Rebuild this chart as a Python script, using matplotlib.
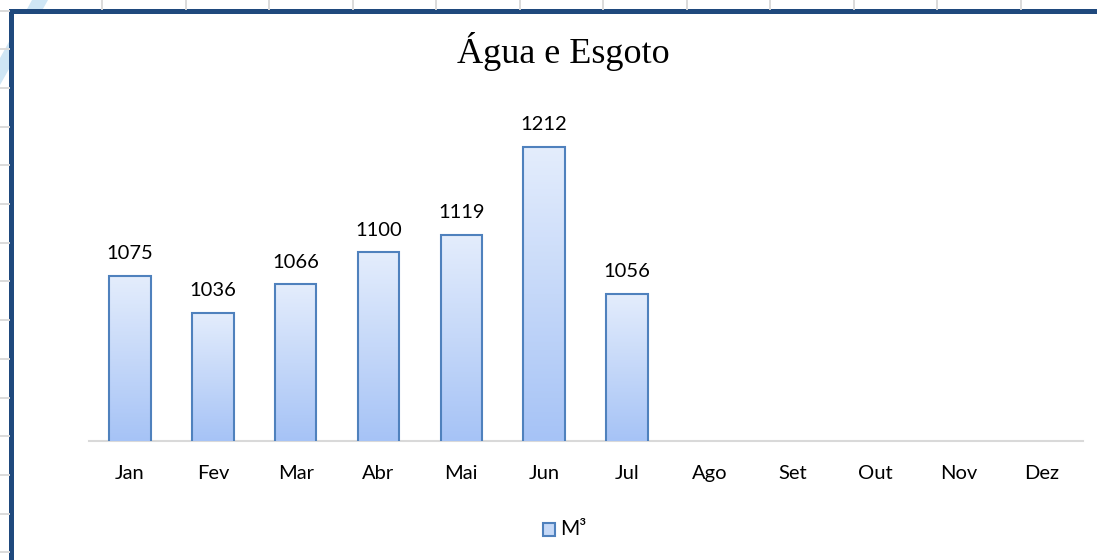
import numpy as np
import matplotlib
matplotlib.use("Agg")
import matplotlib.pyplot as plt
from matplotlib.patches import Polygon, Rectangle
from matplotlib.colors import LinearSegmentedColormap

# data
months = ["Jan", "Fev", "Mar", "Abr", "Mai", "Jun", "Jul", "Ago", "Set", "Out", "Nov", "Dez"]
volumes = [1075, 1036, 1066, 1100, 1119, 1212, 1056]
series_name = "M³"
title = "Água e Esgoto"

LABEL_FONT = ["Lato", "DejaVu Sans"]
TITLE_FONT = ["Liberation Serif", "DejaVu Serif"]
EDGE = "#4F81BD"
grad = LinearSegmentedColormap.from_list("bar", ["#A6C3F6", "#E4EDFC"])

W, H = 1097, 560
fig = plt.figure(figsize=(W / 100, H / 100), dpi=100)

# spreadsheet behind the chart: grid lines peeking out on top and left
bg = fig.add_axes([0, 0, 1, 1], zorder=-5)
bg.set_xlim(0, W)
bg.set_ylim(H, 0)
bg.axis("off")
for gx in np.arange(102, W, 83.5):
    bg.plot([gx, gx], [0, 9], color="#DADADA", lw=1.4)
for gy in np.arange(10.5, H, 38.7):
    bg.plot([0, 9], [gy, gy], color="#DADADA", lw=1.4)
bg.add_patch(Polygon([[32, 0], [48, 0], [0, 85], [0, 58]], closed=True,
                     color="#CFE6F5", lw=0))
# chart area with its dark blue frame
bg.add_patch(Rectangle((10.5, 10.5), W, H, facecolor="white",
                       edgecolor="#1F497D", lw=3.6))

ax = fig.add_axes([88.6 / W, (H - 441) / H, 994 / W, 330 / H])
x = np.arange(len(months))
bars = ax.bar(x[:len(volumes)], volumes, width=0.5, facecolor="none",
              edgecolor=EDGE, linewidth=1.5, zorder=3)
ax.set_xlim(-0.5, len(months) - 0.5)
ax.set_ylim(900, 1250)

# vertical gradient fill clipped to each bar
g = np.linspace(0, 1, 256).reshape(-1, 1)
for b in bars:
    x0, y0 = b.get_x(), b.get_y()
    im = ax.imshow(g, cmap=grad, aspect="auto", origin="lower",
                   extent=[x0, x0 + b.get_width(), 900, y0 + b.get_height()],
                   zorder=2)
    im.set_clip_path(b)

for xi, v in zip(x, volumes):
    ax.annotate(str(v), (xi, v), xytext=(0, 12), textcoords="offset points",
                ha="center", va="baseline", fontsize=14.5, family=LABEL_FONT,
                color="#000000")

ax.set_xticks(x)
ax.set_xticklabels(months, fontsize=14.5, family=LABEL_FONT)
ax.tick_params(axis="x", length=0, pad=17)
ax.set_yticks([])
for s in ["top", "right", "left"]:
    ax.spines[s].set_visible(False)
ax.spines["bottom"].set_color("#D9D9D9")
ax.spines["bottom"].set_linewidth(1.5)
ax.spines["bottom"].set_zorder(1)
ax.set_facecolor("none")

fig.text(563 / W, 1 - 63 / H, title, ha="center", va="baseline",
         fontsize=26, family=TITLE_FONT)

# legend drawn as a small swatch + label
fig.patches.append(Rectangle((543 / W, 1 - 536 / H), 12 / W, 13 / H,
                             transform=fig.transFigure, facecolor="#C6D9F7",
                             edgecolor=EDGE, lw=1.5))
fig.text(560 / W, 1 - 529 / H, series_name, ha="left", va="center",
         fontsize=15, family=LABEL_FONT)

fig.savefig("out.png", dpi=100)
